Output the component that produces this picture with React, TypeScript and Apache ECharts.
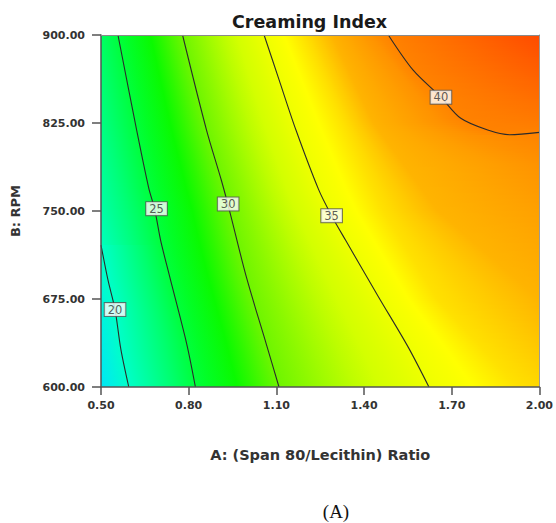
import React, { useEffect, useRef } from "react";
import * as echarts from "echarts";

// ---- data ----
const xRange = [0.5, 2.0];
const yRange = [600, 900];
const xTickStep = 0.3;
const yTickStep = 75;

// drawn contour lines (Creaming Index levels)
const contourLevels = [20, 25, 30, 35, 40];
const contour20 = [[0.5, 721], [0.524, 691], [0.548, 666], [0.568, 632], [0.595, 600]];
const contour25 = [[0.558, 900], [0.622, 819], [0.663, 770], [0.684, 751], [0.704, 725], [0.735, 694], [0.793, 637], [0.823, 600]];
const contour30 = [[0.779, 900], [0.861, 819], [0.912, 776], [0.939, 751], [0.997, 694], [1.065, 637], [1.109, 600]];
const contour35 = [[1.058, 900], [1.109, 862], [1.167, 819], [1.245, 768], [1.289, 746], [1.337, 725], [1.449, 677], [1.551, 634], [1.622, 600]];
const contour40 = [[1.483, 900], [1.568, 870], [1.663, 847], [1.731, 829], [1.823, 819], [1.898, 815], [2.0, 817]];
const contourLines = [contour20, contour25, contour30, contour35, contour40];

// contour label positions: [x, y, level]
const contourLabels = [[0.548, 666, 20], [0.69, 752, 25], [0.935, 756, 30], [1.289, 746, 35], [1.663, 847, 40]];

// iso-colour lines of the shading (not drawn), estimated from the colours
const shadeLevels = [37, 38.5, 39.5];
const shade37 = [[1.194, 900], [1.33, 825], [1.466, 750], [1.653, 674], [1.925, 600]];
const shade385 = [[1.289, 900], [1.432, 825], [1.653, 750], [1.925, 691], [2.0, 674]];
const shade395 = [[1.422, 900], [1.653, 825], [1.789, 810], [2.0, 789]];
const shadeLines = [shade37, shade385, shade395];

// response values along the left (A = 0.50) and right (A = 2.00) edges: [B, value]
const leftEdge = [[600, 17.9], [675, 19.2], [750, 21.2], [825, 22.6], [900, 23.7]];
const rightEdge = [[600, 37.3], [674, 38.5], [750, 39.1], [789, 39.5], [817, 40], [825, 40.5], [900, 44]];

// colour scale: [value, [r, g, b]]
const colorScale: [number, number[]][] = [
  [17.5, [0, 225, 255]],
  [20, [0, 255, 200]],
  [23, [0, 255, 120]],
  [25.5, [0, 255, 45]],
  [27.5, [10, 250, 0]],
  [30, [110, 245, 0]],
  [33, [205, 255, 0]],
  [36, [255, 255, 0]],
  [37, [255, 225, 0]],
  [38.5, [255, 180, 0]],
  [40, [255, 130, 0]],
  [44, [255, 75, 0]],
];

function valueColor(v: number): string {
  const s = colorScale;
  let c = s[s.length - 1][1];
  if (v <= s[0][0]) c = s[0][1];
  else {
    for (let i = 1; i < s.length; i++) {
      if (v <= s[i][0]) {
        const t = (v - s[i - 1][0]) / (s[i][0] - s[i - 1][0]);
        const a = s[i - 1][1], b = s[i][1];
        c = [0, 1, 2].map((k) => Math.round(a[k] + (b[k] - a[k]) * t));
        break;
      }
    }
  }
  return `rgb(${c[0]},${c[1]},${c[2]})`;
}

function edgeValue(edge: number[][], py: number): number {
  const e = [...edge].sort((a, b) => a[0] - b[0]);
  if (py <= e[0][0]) return e[0][1];
  for (let i = 1; i < e.length; i++) {
    if (py <= e[i][0]) {
      const t = (py - e[i - 1][0]) / (e[i][0] - e[i - 1][0]);
      return e[i - 1][1] + (e[i][1] - e[i - 1][1]) * t;
    }
  }
  return e[e.length - 1][1];
}

function crossX(pts: number[][], py: number): number | null {
  for (let i = 1; i < pts.length; i++) {
    const a = pts[i - 1], b = pts[i];
    const lo = Math.min(a[1], b[1]), hi = Math.max(a[1], b[1]);
    if (py >= lo && py <= hi && hi > lo) {
      const t = (py - a[1]) / (b[1] - a[1]);
      return a[0] + (b[0] - a[0]) * t;
    }
  }
  return null;
}

const FONT = '"DejaVu Sans", "Liberation Sans", sans-serif';

export default function App() {
  const ref = useRef<HTMLDivElement>(null);

  useEffect(() => {
    if (!ref.current) return;
    const chart = echarts.init(ref.current, null, { renderer: "svg" });

    const renderFill = (params: any, api: any) => {
      const tl = api.coord([xRange[0], yRange[1]]);
      const br = api.coord([xRange[1], yRange[0]]);
      const left = tl[0], top = tl[1], right = br[0], bottom = br[1];
      const width = right - left;
      const iso = [
        ...contourLines.map((pts, i) => ({ level: contourLevels[i], pts: pts.map((p) => api.coord(p)) })),
        ...shadeLines.map((pts, i) => ({ level: shadeLevels[i], pts: pts.map((p) => api.coord(p)) })),
      ];
      const lE = leftEdge.map(([y, v]) => [api.coord([xRange[0], y])[1], v]);
      const rE = rightEdge.map(([y, v]) => [api.coord([xRange[1], y])[1], v]);
      const children: any[] = [];
      const step = 2;
      for (let y = top; y < bottom; y += step) {
        const yc = Math.min(y + step / 2, bottom);
        const cross: number[][] = [];
        for (const l of iso) {
          const x = crossX(l.pts, yc);
          if (x !== null && x >= left && x <= right) cross.push([x, l.level]);
        }
        cross.sort((a, b) => a[0] - b[0]);
        const anchors: number[][] = [[left, edgeValue(lE, yc)], ...cross, [right, edgeValue(rE, yc)]];
        const stops: any[] = [];
        const sub = 6;
        for (let i = 1; i < anchors.length; i++) {
          const a = anchors[i - 1], b = anchors[i];
          for (let k = 0; k < sub; k++) {
            const t = k / sub;
            const x = a[0] + (b[0] - a[0]) * t;
            const v = a[1] + (b[1] - a[1]) * t;
            stops.push({ offset: Math.max(0, Math.min(1, (x - left) / width)), color: valueColor(v) });
          }
        }
        stops.push({ offset: 1, color: valueColor(anchors[anchors.length - 1][1]) });
        children.push({
          type: "rect",
          shape: { x: left, y, width, height: Math.min(step + 0.6, bottom - y) },
          style: { fill: new echarts.graphic.LinearGradient(0, 0, 1, 0, stops) },
        });
      }
      return { type: "group", children };
    };

    const lineSeries = contourLines.map((pts, i) => ({
      type: "line",
      name: `CI ${contourLevels[i]}`,
      data: pts,
      smooth: 0.3,
      symbol: "none",
      lineStyle: { color: "#2b2b2b", width: 1.1 },
      z: 3,
      silent: true,
    }));

    const tickLabelStyle = {
      fontFamily: FONT,
      fontSize: 11,
      fontWeight: "bold" as const,
      color: "#333",
    };

    chart.setOption({
      animation: false,
      backgroundColor: "#ffffff",
      title: {
        text: "Creaming Index",
        left: 227,
        top: 8,
        textStyle: { fontFamily: FONT, fontSize: 17.5, fontWeight: "bold", color: "#1a1a1a" },
      },
      grid: { left: 101, right: 13, top: 35, bottom: 136, containLabel: false },
      xAxis: [
        {
          type: "value",
          min: xRange[0],
          max: xRange[1],
          interval: xTickStep,
          z: 5,
          name: "A: (Span 80/Lecithin) Ratio",
          nameLocation: "middle",
          nameGap: 60,
          nameTextStyle: { fontFamily: FONT, fontSize: 14.5, fontWeight: "bold", color: "#333" },
          axisLine: { show: true, lineStyle: { color: "#555", width: 1.5 } },
          axisTick: { show: true, length: 8, lineStyle: { color: "#555", width: 1.5 } },
          axisLabel: { ...tickLabelStyle, margin: 13, formatter: (v: number) => v.toFixed(2) },
          splitLine: { show: false },
        },
        {
          type: "value",
          position: "top",
          min: xRange[0],
          max: xRange[1],
          z: 5,
          axisLine: { show: true, lineStyle: { color: "#8a8a8a", width: 1 } },
          axisTick: { show: false },
          axisLabel: { show: false },
          splitLine: { show: false },
        },
      ],
      yAxis: [
        {
          type: "value",
          min: yRange[0],
          max: yRange[1],
          interval: yTickStep,
          z: 5,
          name: "B: RPM",
          nameLocation: "middle",
          nameGap: 79,
          nameRotate: 90,
          nameTextStyle: { fontFamily: FONT, fontSize: 13, fontWeight: "bold", color: "#333" },
          axisLine: { show: true, lineStyle: { color: "#555", width: 1.5 } },
          axisTick: { show: true, length: 9, lineStyle: { color: "#555", width: 1.5 } },
          axisLabel: { ...tickLabelStyle, margin: 16, formatter: (v: number) => v.toFixed(2) },
          splitLine: { show: false },
        },
        {
          type: "value",
          position: "right",
          min: yRange[0],
          max: yRange[1],
          z: 5,
          axisLine: { show: true, lineStyle: { color: "#9a9a9a", width: 1 } },
          axisTick: { show: false },
          axisLabel: { show: false },
          splitLine: { show: false },
        },
      ],
      series: [
        {
          type: "custom",
          name: "fill",
          renderItem: renderFill,
          data: [[xRange[0], yRange[0]]],
          clip: true,
          z: 1,
          silent: true,
        },
        ...lineSeries,
        {
          type: "scatter",
          name: "labels",
          data: contourLabels,
          symbolSize: 1,
          itemStyle: { color: "rgba(0,0,0,0)" },
          z: 6,
          silent: true,
          label: {
            show: true,
            position: "inside",
            formatter: (p: any) => String(p.value[2]),
            fontFamily: FONT,
            fontSize: 11.5,
            color: "#333",
            backgroundColor: "#ffffff",
            borderColor: "#555",
            borderWidth: 1,
            padding: [1, 3, 0, 3],
          },
        },
      ],
      graphic: [
        {
          type: "text",
          x: 336,
          y: 511,
          style: {
            text: "(A)",
            font: '19px "Liberation Serif", "DejaVu Serif", serif',
            fill: "#111",
            textAlign: "center",
            textVerticalAlign: "middle",
          },
        },
      ],
    });

    return () => chart.dispose();
  }, []);

  return (
    <div
      ref={ref}
      style={{ position: "fixed", left: 0, top: 0, width: 556, height: 523, background: "#fff" }}
    />
  );
}
